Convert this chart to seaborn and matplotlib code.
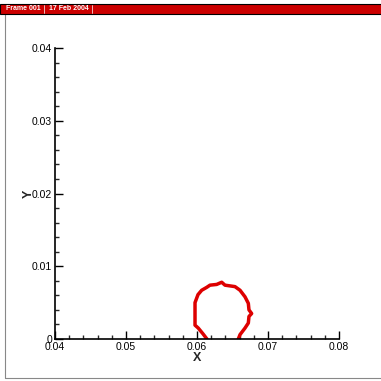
import numpy as np
import matplotlib
matplotlib.use("Agg")
import matplotlib.pyplot as plt
import seaborn as sns
import pandas as pd
from matplotlib.patches import Rectangle
from matplotlib.lines import Line2D
from matplotlib.ticker import MultipleLocator

# interface contour (bubble on the wall)
x_vals = [0.0614, 0.06085, 0.06018, 0.05972, 0.05972, 0.06014, 0.06066, 0.06137,
          0.06183, 0.06277, 0.06348, 0.06394, 0.06535, 0.06606, 0.06676, 0.06723,
          0.06732, 0.06770, 0.06732, 0.06723, 0.06676, 0.06606, 0.06582]
y_vals = [0.0000, 0.0007, 0.0015, 0.0019, 0.0050, 0.0061, 0.0067, 0.0071,
          0.0074, 0.0075, 0.0078, 0.0074, 0.0072, 0.0067, 0.0058, 0.0049,
          0.0040, 0.0035, 0.0031, 0.0022, 0.0015, 0.0006, 0.0000]
x_ticks = [0.04, 0.05, 0.06, 0.07, 0.08]
y_ticks = [0, 0.01, 0.02, 0.03, 0.04]
x_labels = ["0.04", "0.05", "0.06", "0.07", "0.08"]
y_labels = ["0", "0.01", "0.02", "0.03", "0.04"]
header = ["Frame 001", "17 Feb 2004"]

sns.set_style("white")
plt.rcParams["font.family"] = ["Liberation Sans", "DejaVu Sans"]

df = pd.DataFrame({"x": x_vals, "y": y_vals})

fig = plt.figure(figsize=(3.81, 3.81), dpi=100)
ax = fig.add_axes([55/381, 1-339/381, 284/381, 291/381])
sns.lineplot(data=df, x="x", y="y", sort=False, estimator=None, color="#dd0000",
             linewidth=2.5, ax=ax)

ax.set_xlim(0.04, 0.08)
ax.set_ylim(0, 0.04)
ax.set_xticks(x_ticks)
ax.set_xticklabels(x_labels)
ax.set_yticks(y_ticks)
ax.set_yticklabels(y_labels)
ax.xaxis.set_minor_locator(MultipleLocator(0.002))
ax.yaxis.set_minor_locator(MultipleLocator(0.002))
ax.tick_params(which="major", direction="in", length=6, width=1, labelsize=7.5, pad=2,
               bottom=True, left=True, colors="black")
ax.tick_params(which="minor", direction="in", length=3, width=1, bottom=True, left=True)
for s in ["top", "right"]:
    ax.spines[s].set_visible(False)
for s in ["left", "bottom"]:
    ax.spines[s].set_color("black")
    ax.spines[s].set_linewidth(1.2)
ax.set_xlabel("X", fontsize=9, fontweight="bold", labelpad=0)
ax.set_ylabel("Y", fontsize=9, fontweight="bold", labelpad=-2)
ax.set_facecolor("none")

# frame and header bar
fig.add_artist(Rectangle((5/381, 3/381), 1.1, 1 - 16/381, transform=fig.transFigure,
                         fill=False, edgecolor="#888888", linewidth=0.8))
fig.add_artist(Rectangle((0, 1-14/381), 1.1, 10/381, transform=fig.transFigure,
                         facecolor="#cc0000", edgecolor="black", linewidth=0.8))
fig.text(6/381, 1-9/381, header[0], color="white", fontsize=5, fontweight="bold", va="center")
fig.text(49/381, 1-9/381, header[1], color="white", fontsize=5, fontweight="bold", va="center")
for xs in [44, 92]:
    fig.add_artist(Line2D([xs/381, xs/381], [1-13/381, 1-5/381], transform=fig.transFigure,
                          color="white", linewidth=0.5))

fig.savefig("out.png", dpi=100)
